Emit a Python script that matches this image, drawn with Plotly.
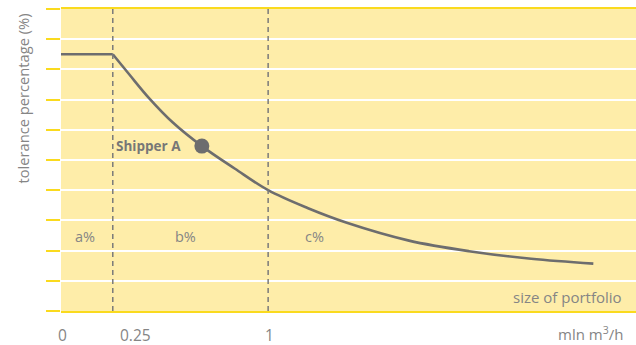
import plotly.graph_objects as go

# ---- data ----
flat_x = [0, 0.25]
flat_y = [8.5, 8.5]

curve_x = [0.25, 0.33, 0.425, 0.54, 0.68, 0.84, 1.0, 1.19, 1.38, 1.68, 1.97, 2.27, 2.57]
curve_y = [8.5, 7.83, 7.05, 6.24, 5.46, 4.71, 4.0, 3.41, 2.92, 2.33, 1.98, 1.73, 1.57]

shipper_x = [0.68]
shipper_y = [5.46]
shipper_label = "Shipper A"

boundaries = [0.25, 1]
zone_labels = ["a%", "b%", "c%"]
zone_x = [0.117, 0.602, 1.222]
zone_y = 2.46

tick_vals = [0, 0.25, 1]
tick_text = ["0", "0.25", "1"]

y_title = "tolerance percentage (%)"
x_title = "size of portfolio"
unit_label = "mln m<sup>3</sup>/h"

# ---- styles ----
FILL = "#FEEDA9"
YELLOW = "#FADA1E"
GRAY = "#6D6D6E"
TEXT = "#858585"
FONT = "Open Sans"

fig = go.Figure()

fig.add_trace(go.Scatter(x=flat_x, y=flat_y, mode="lines",
                         line=dict(color=GRAY, width=2.6), hoverinfo="skip"))
fig.add_trace(go.Scatter(x=curve_x, y=curve_y, mode="lines",
                         line=dict(color=GRAY, width=2.6, shape="spline", smoothing=1.0),
                         hoverinfo="skip"))
fig.add_trace(go.Scatter(x=shipper_x, y=shipper_y, mode="markers",
                         marker=dict(color=GRAY, size=15), hoverinfo="skip"))

for b in boundaries:
    fig.add_shape(type="line", x0=b, x1=b, xref="x", y0=0, y1=1, yref="paper",
                  line=dict(color="#7A7A7A", width=1.5, dash="5px,4px"))

for lab, zx in zip(zone_labels, zone_x):
    fig.add_annotation(x=zx, y=zone_y, text=lab, showarrow=False,
                       font=dict(family=FONT, size=14.5, color=TEXT))

fig.add_annotation(x=shipper_x[0], y=shipper_y[0], text="<b>" + shipper_label + "</b>",
                   showarrow=False, xanchor="right", xshift=-19,
                   font=dict(family=FONT, size=13.5, color="#777777"))

# x tick labels
for v, t in zip(tick_vals, tick_text):
    if v == 0.25:
        fig.add_annotation(x=v, y=0, yref="y", text=t, showarrow=False,
                           xanchor="left", xshift=5, yanchor="middle", yshift=-24,
                           font=dict(family=FONT, size=15.5, color=TEXT))
    else:
        fig.add_annotation(x=v, y=0, yref="y", text=t, showarrow=False,
                           xanchor="center", xshift=1, yanchor="middle", yshift=-24,
                           font=dict(family=FONT, size=15.5, color=TEXT))

fig.add_annotation(x=1.0, y=0.045, xref="paper", yref="paper", text=x_title,
                   showarrow=False, xanchor="right", yanchor="middle", xshift=-12,
                   font=dict(family=FONT, size=15, color=TEXT))
fig.add_annotation(x=1.0, y=-0.075, xref="paper", yref="paper", text=unit_label,
                   showarrow=False, xanchor="right", yanchor="middle", xshift=-11,
                   font=dict(family=FONT, size=15, color=TEXT))

fig.add_annotation(x=-38.5 / 575, y=1, xref="paper", yref="paper", text=y_title,
                   showarrow=False, textangle=-90, xanchor="center", yanchor="top",
                   yshift=-3,
                   font=dict(family=FONT, size=14.7, color=TEXT))

fig.update_layout(
    width=636, height=345,
    margin=dict(l=61, r=0, t=9, b=34),
    paper_bgcolor="white", plot_bgcolor=FILL,
    showlegend=False,
    xaxis=dict(range=[0, 2.776], showgrid=False, zeroline=False, showticklabels=False,
               ticks="", showline=True, mirror=True, linecolor=YELLOW, linewidth=2),
    yaxis=dict(range=[0, 10], dtick=1, tick0=0, showgrid=True, gridcolor="white",
               gridwidth=1.8, zeroline=False, showticklabels=False, ticks="outside",
               ticklen=14, tickwidth=2, tickcolor=YELLOW, showline=False),
)

fig.write_html("out.html")
